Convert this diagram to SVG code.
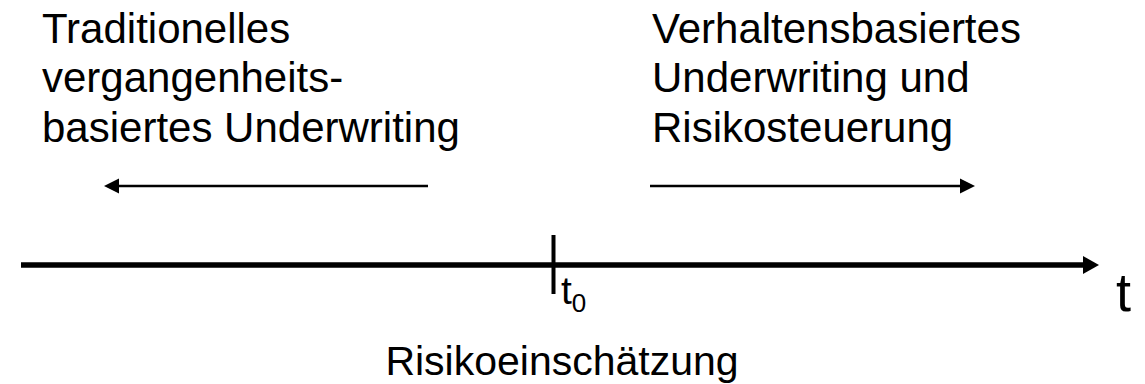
<svg xmlns="http://www.w3.org/2000/svg" width="1145" height="384" viewBox="0 0 1145 384">
<style>
.lbl{font-family:"Liberation Sans",Arial,sans-serif;font-size:42px;fill:#000}
.ln{stroke:#000;fill:none}
</style>
<defs>
<marker id="ah" markerUnits="userSpaceOnUse" markerWidth="16" markerHeight="16" refX="2" refY="8" orient="auto" overflow="visible">
<path d="M0,0.5 L15,8 L0,15.5 Z" fill="#000"/>
</marker>
<marker id="ahBig" markerUnits="userSpaceOnUse" markerWidth="17" markerHeight="18" refX="2" refY="9" orient="auto" overflow="visible">
<path d="M0,0 L16,9 L0,18 Z" fill="#000"/>
</marker>
</defs>
<rect width="1145" height="384" fill="#fff"/>
<g id="connectors">
<line class="ln" x1="21" y1="265" x2="1085" y2="265" stroke-width="5.5" marker-end="url(#ahBig)"/>
<line class="ln" x1="553.5" y1="235" x2="553.5" y2="294" stroke-width="4"/>
<line class="ln" x1="428" y1="186" x2="117" y2="186" stroke-width="2.5" marker-end="url(#ah)"/>
<line class="ln" x1="650" y1="186" x2="962" y2="186" stroke-width="2.5" marker-end="url(#ah)"/>
</g>
<g id="left-text">
<text class="lbl" x="42" y="43">Traditionelles</text>
<text class="lbl" x="42" y="92">vergangenheits-</text>
<text class="lbl" x="42" y="142">basiertes Underwriting</text>
</g>
<g id="right-text">
<text class="lbl" x="652" y="43">Verhaltensbasiertes</text>
<text class="lbl" x="652" y="92">Underwriting und</text>
<text class="lbl" x="652" y="142">Risikosteuerung</text>
</g>
<g id="t0">
<text class="lbl" x="561" y="304" style="font-size:39px">t<tspan style="font-size:26px" dy="8">0</tspan></text>
</g>
<g id="t-axis">
<text class="lbl" x="1116" y="311" style="font-size:54px">t</text>
</g>
<g id="risk">
<text class="lbl" x="562" y="375" text-anchor="middle" style="font-size:41px">Risikoeinschätzung</text>
</g>
</svg>
